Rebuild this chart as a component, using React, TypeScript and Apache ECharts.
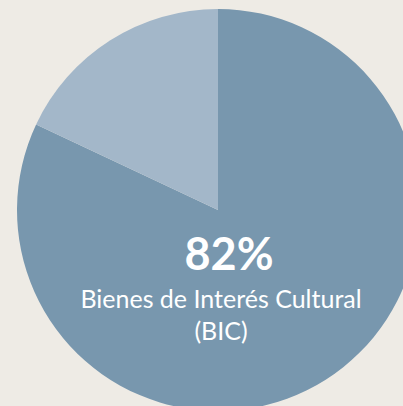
import React, { useEffect, useRef } from "react";
import * as echarts from "echarts";

const categories = ["Bienes de Interés Cultural (BIC)", "Otros"];
const values = [82, 18];
const colors = ["#7897ae", "#a3b7c9"];
const headline = "82%";
const labelLines = ["Bienes de Interés Cultural", "(BIC)"];

export default function App() {
  const ref = useRef<HTMLDivElement>(null);
  useEffect(() => {
    document.body.style.margin = "0";
    const chart = echarts.init(ref.current!, null, { renderer: "svg" });
    const textEl = (text: string, x: number, y: number, font: string) => ({
      type: "text",
      x,
      y,
      z: 100,
      style: {
        text,
        fill: "#ffffff",
        font,
        textAlign: "center",
        textVerticalAlign: "middle",
      },
    });
    chart.setOption({
      animation: false,
      backgroundColor: "#eeebe5",
      series: [
        {
          type: "pie",
          center: [218, 210],
          radius: 201,
          startAngle: 90,
          clockwise: true,
          label: { show: false },
          labelLine: { show: false },
          silent: true,
          data: categories.map((c, i) => ({
            name: c,
            value: values[i],
            itemStyle: { color: colors[i] },
          })),
        },
      ],
      graphic: {
        elements: [
          textEl(headline, 229, 253, "bold 45px Lato"),
          textEl(labelLines[0], 221, 298, "25px Lato"),
          textEl(labelLines[1], 221, 330, "25px Lato"),
        ],
      },
    });
    return () => chart.dispose();
  }, []);
  return <div ref={ref} style={{ width: 403, height: 406 }} />;
}
